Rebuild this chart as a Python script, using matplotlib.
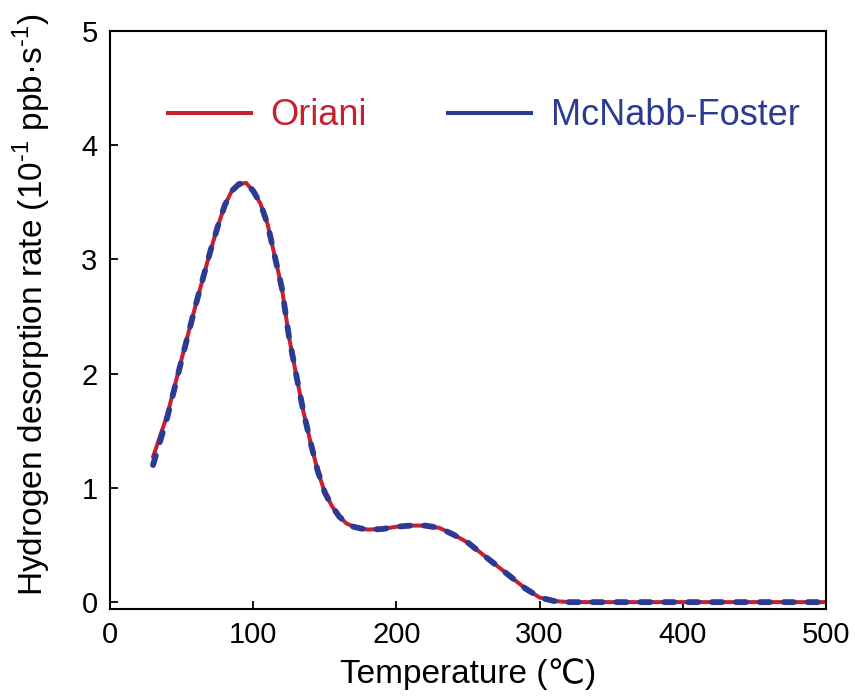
import matplotlib
matplotlib.use("Agg")
import matplotlib.pyplot as plt
from matplotlib.lines import Line2D

plt.rcParams['font.family'] = ['Liberation Sans', 'DejaVu Sans']
plt.rcParams['mathtext.fontset'] = 'custom'
plt.rcParams['mathtext.rm'] = 'Liberation Sans'

# dane
temp_oriani = [30, 40, 50, 60, 70, 75, 80, 85, 90, 95, 100, 105, 110, 115, 120, 125,
               130, 135, 140, 145, 150, 155, 160, 165, 170, 175, 180, 190, 200, 210,
               220, 230, 240, 250, 260, 270, 280, 290, 300, 310, 320, 350, 400, 450, 500]
rate_oriani = [1.27, 1.64, 2.13, 2.61, 3.07, 3.28, 3.47, 3.60, 3.66, 3.67, 3.60, 3.49,
               3.31, 3.03, 2.75, 2.32, 1.99, 1.67, 1.40, 1.15, 0.96, 0.84, 0.75, 0.69,
               0.66, 0.645, 0.635, 0.64, 0.66, 0.67, 0.67, 0.65, 0.59, 0.52, 0.42, 0.32,
               0.22, 0.12, 0.04, 0.01, 0.0, 0.0, 0.0, 0.0, 0.0]

temp_mcnabb = [30, 40, 50, 60, 70, 75, 80, 85, 90, 95, 100, 105, 110, 115, 120, 125,
               130, 135, 140, 145, 150, 155, 160, 165, 170, 175, 180, 190, 200, 210,
               220, 230, 240, 250, 260, 270, 280, 290, 300, 310, 320, 350, 400, 450, 500]
rate_mcnabb = [1.20, 1.62, 2.12, 2.61, 3.07, 3.28, 3.47, 3.60, 3.66, 3.67, 3.60, 3.49,
               3.31, 3.03, 2.75, 2.32, 1.99, 1.67, 1.40, 1.15, 0.96, 0.84, 0.75, 0.69,
               0.66, 0.645, 0.635, 0.64, 0.66, 0.67, 0.67, 0.65, 0.59, 0.52, 0.42, 0.32,
               0.22, 0.12, 0.04, 0.01, 0.0, 0.0, 0.0, 0.0, 0.0]

red = '#c8202f'
blue = '#2b3a92'

fig = plt.figure(figsize=(8.55, 6.97), dpi=100)
ax = fig.add_axes([0.1287, 0.1263, 0.8374, 0.8292])

ax.plot(temp_oriani, rate_oriani, color=red, lw=2.9, solid_capstyle='round',
        solid_joinstyle='round')
ln, = ax.plot(temp_mcnabb, rate_mcnabb, color=blue, lw=4.2,
              dash_capstyle='round', dash_joinstyle='round')
ln.set_dashes((1.7, 2.4))

ax.set_xlim(0, 500)
ax.set_ylim(-0.06, 5)
ax.set_xticks([0, 100, 200, 300, 400, 500])
ax.set_yticks([0, 1, 2, 3, 4, 5])
ax.tick_params(direction='in', length=6, width=1.3, labelsize=21, pad=9)

for s in ax.spines.values():
    s.set_linewidth(1.5)

ax.set_xlabel('Temperature (\u2103)', fontsize=24, labelpad=6)
ax.set_ylabel('Hydrogen desorption rate (10$^{\u2010 1}$ ppb\u00b7s$^{\u2010 1}$)', fontsize=24)
ax.yaxis.set_label_coords(-0.08, 0.526)

# legenda z liniami ciągłymi
handles = [Line2D([], [], color=red, lw=2.9), Line2D([], [], color=blue, lw=2.9)]
leg = ax.legend(handles, ['Oriani', 'McNabb-Foster'], loc='center',
                bbox_to_anchor=(0.522, 0.853), ncol=2, frameon=False, fontsize=26,
                handlelength=2.3, handletextpad=0.55, columnspacing=2.25,
                labelcolor='linecolor', borderpad=0, borderaxespad=0)

fig.savefig('out.png', dpi=100)
